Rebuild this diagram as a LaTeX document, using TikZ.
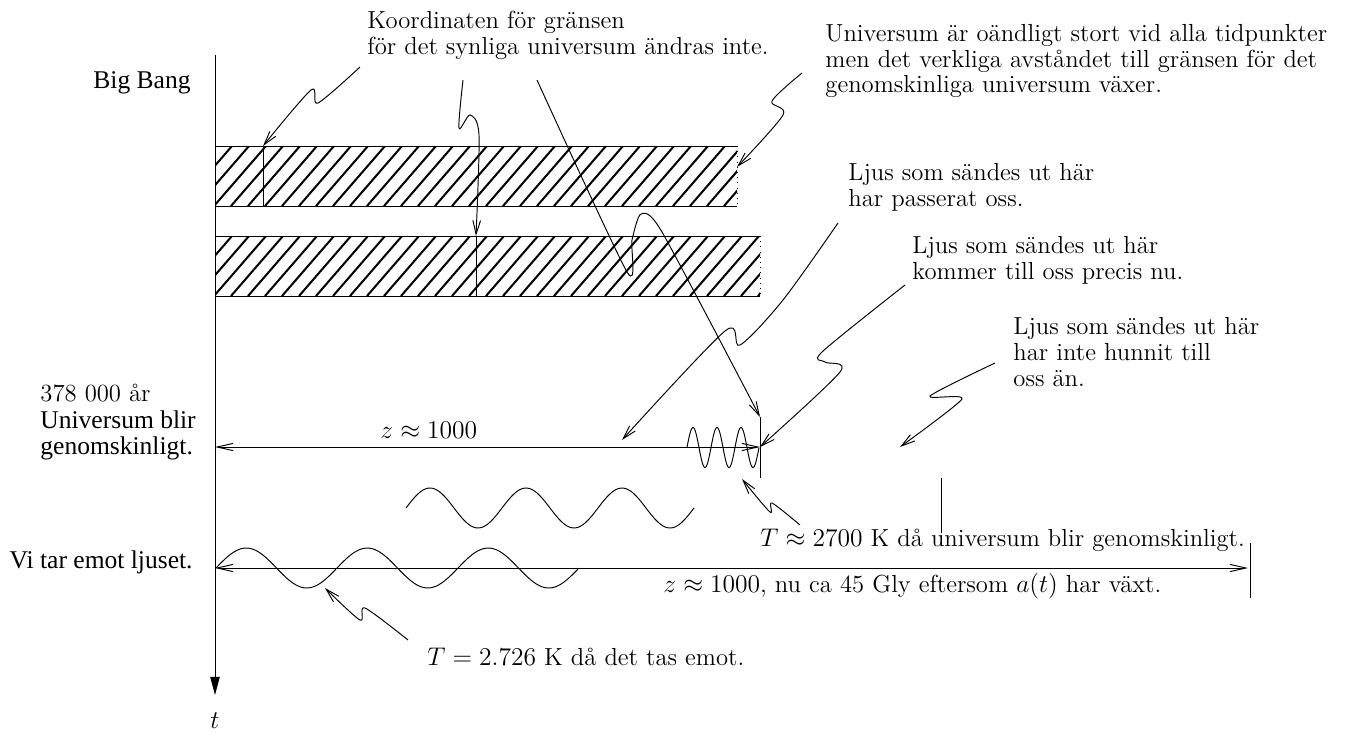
\documentclass[tikz,border=0pt]{standalone}
\usepackage{fontspec}
\usepackage{tikz}
\usetikzlibrary{arrows.meta}
\newfontfamily\figfont{Liberation Serif}

\begin{document}
\begin{tikzpicture}[
  x=0.47pt, y=-0.47pt,
  every node/.style={font=\fontsize{11.6}{12.1}\selectfont, inner sep=0pt},
  lbl/.style={font=\figfont\fontsize{12}{12.3}\selectfont, inner sep=0pt},
  txt/.style={align=left, anchor=west},
  thinline/.style={line width=0.45pt},
  ar/.style={thinline, -{Straight Barb[length=6.5pt,width=3.6pt]}},
  dbl/.style={thinline, {Straight Barb[length=7.5pt,width=3.4pt]}-{Straight Barb[length=7.5pt,width=3.4pt]}},
  axis/.style={thinline, -{Triangle[length=8.5pt,width=4.4pt]}},
  hatch/.style={line width=0.95pt},
  wave/.style={thinline, smooth, samples=120}
]
\useasboundingbox (0,0) rectangle (1347,731);

% time axis
\coordinate (bang) at (215,55);
\coordinate (tend) at (215,695);
\draw[axis] (bang) -- (tend);
\node (tlbl) at (215,721) {$t$};

% left labels
\node[lbl, anchor=east] (bigbang) at (191,83) {Big Bang};
\node[anchor=west] (years) at (40,393) {378 000 år};
\node[lbl, txt] (clear) at (40,435) {Universum blir\\genomskinligt.};
\node[lbl, anchor=east] (receive) at (193,562) {Vi tar emot ljuset.};

% hatched universe strips
\foreach \yt/\xr in {146/737, 236/760}{
  \begin{scope}
    \clip (215,\yt) rectangle (\xr,\yt+60);
    \foreach \k in {0,...,36}
      \draw[hatch] ({163+17*\k},\yt+60) -- ++(52,-60);
  \end{scope}
  \draw[thinline] (\xr,\yt) -- (215,\yt) (215,\yt+60) -- (\xr,\yt+60);
  \draw[thinline, dotted] (\xr,\yt) -- (\xr,\yt+60);
}
\coordinate (mark1) at (263,146);
\coordinate (mark2) at (476,236);
\draw[thinline] (mark1) -- (263,206);
\draw[thinline] (mark2) -- (476,296);
\coordinate (edge1) at (737,167);

% emission and reception lines
\coordinate (emit) at (760,447);
\coordinate (emitA) at (215,447);
\coordinate (recv) at (1248,568);
\coordinate (recvA) at (215,568);
\draw[dbl] (emitA) -- (emit);
\draw[dbl] (recvA) -- (recv);
\coordinate (tickA) at (760,417);
\draw[thinline] (tickA) -- (760,478);
\draw[thinline] (941,478) -- (941,533);
\draw[thinline] (1250,543) -- (1250,598);

% light waves
\draw[wave] plot[domain=0:1080] ({687+\x/15},{447.5-20*sin(\x)});
\draw[wave] plot[domain=0:1080] ({406+\x*0.26667},{508-20*sin(\x)});
\draw[wave] plot[domain=0:1080] ({216+\x*0.33611},{568-20*sin(\x)});

% texts
\node[txt] (koord) at (367,35.5) {Koordinaten för gränsen\\för det synliga universum ändras inte.};
\node[txt] (infinite) at (825,61) {Universum är oändligt stort vid alla tidpunkter\\men det verkliga avståndet till gränsen för det\\genomskinliga universum växer.};
\node[txt] (passed) at (848,187.5) {Ljus som sändes ut här\\har passerat oss.};
\node[txt] (arrives) at (912,260.5) {Ljus som sändes ut här\\kommer till oss precis nu.};
\node[txt] (notyet) at (1013,352) {Ljus som sändes ut här\\har inte hunnit till\\oss än.};
\node[anchor=west] (zthen) at (380,430) {$z \approx 1000$};
\node[anchor=west] (Tthen) at (760,540) {$T \approx 2700$ K då universum blir genomskinligt.};
\node[anchor=west] (znow) at (663,586) {$z \approx 1000$, nu ca 45 Gly eftersom $a(t)$ har växt.};
\node[anchor=west] (Tnow) at (427,657) {$T = 2.726$ K då det tas emot.};

% squiggly pointers
\coordinate (sA) at (360,67);
\coordinate (sB) at (463,80);
\coordinate (sC) at (537,80);
\coordinate (sD) at (838,223);
\coordinate (sE) at (905,285);
\coordinate (sF) at (995,363);
\coordinate (sG) at (802,73);
\coordinate (sH) at (800,525);
\coordinate (sI) at (408,640);
\coordinate (pastpt) at (622,440);
\coordinate (futpt) at (900,447);
\coordinate (hotpt) at (742,479);
\coordinate (coldpt) at (325,588);

\draw[ar] plot[smooth, tension=0.5] coordinates {(sA) (318,103) (311,90) (mark1)};
\draw[ar] plot[smooth, tension=0.5] coordinates {(sB) (459,128) (470,115) (479,135) (mark2)};
\draw[ar] plot[smooth, tension=0.4] coordinates {(sC) (627,272) (632,240) (641,214) (662,232) (tickA)};
\draw[ar] plot[smooth, tension=0.5] coordinates {(sD) (783,300) (740,345) (725,331) (pastpt)};
\draw[ar] plot[smooth, tension=0.5] coordinates {(sE) (822,352) (825,362) (840,372) (emit)};
\draw[ar] plot[smooth, tension=0.4] coordinates {(sF) (930,396) (962,399) (futpt)};
\draw[ar] plot[smooth, tension=0.5] coordinates {(sG) (772,101) (783,115) (edge1)};
\draw[ar] plot[smooth, tension=0.5] coordinates {(sH) (772,503) (770,512) (hotpt)};
\draw[ar] plot[smooth, tension=0.5] coordinates {(sI) (365,608) (360,620) (coldpt)};
\end{tikzpicture}
\end{document}
